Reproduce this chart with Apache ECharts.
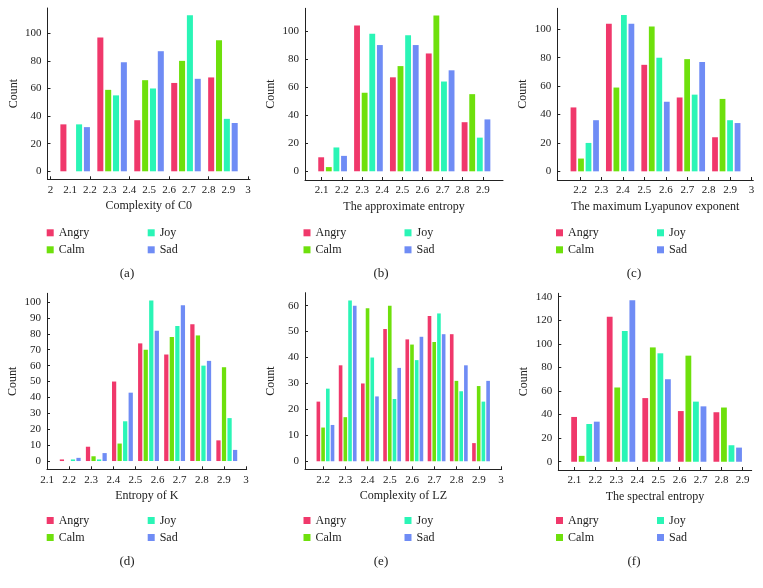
<!DOCTYPE html>
<html><head><meta charset="utf-8">
<script src="https://cdn.jsdelivr.net/npm/echarts@6/dist/echarts.min.js"></script>
<style>html,body{margin:0;padding:0;background:#fff}#c{width:763px;height:588px}</style>
</head><body><div id="c"></div>
<script>
const emotions = ['Angry', 'Calm', 'Joy', 'Sad'];
const colors = ['#f0386b', '#6ee00c', '#2af5b6', '#6f8cf5'];

// (a) Complexity of C0
const binsA = [2.125, 2.312, 2.499, 2.686, 2.873];
const angryA = [34, 97, 37, 64, 68];
const calmA = [0, 59, 66, 80, 95];
const joyA = [34, 55, 60, 113, 38];
const sadA = [32, 79, 87, 67, 35];

// (b) The approximate entropy
const binsB = [2.154, 2.332, 2.510, 2.688, 2.866];
const angryB = [10, 104, 67, 84, 35];
const calmB = [3, 56, 75, 111, 55];
const joyB = [17, 98, 97, 64, 24];
const sadB = [11, 90, 90, 72, 37];

// (c) The maximum Lyapunov exponent
const binsC = [2.222, 2.387, 2.552, 2.717, 2.882];
const angryC = [45, 104, 75, 52, 24];
const calmC = [9, 59, 102, 79, 51];
const joyC = [20, 110, 80, 54, 36];
const sadC = [36, 104, 49, 77, 34];

// (d) Entropy of K
const binsD = [2.205, 2.323, 2.441, 2.559, 2.677, 2.795, 2.913];
const angryD = [1, 9, 50, 74, 67, 86, 13];
const calmD = [0, 3, 11, 70, 78, 79, 59];
const joyD = [1, 1, 25, 101, 85, 60, 27];
const sadD = [2, 5, 43, 82, 98, 63, 7];

// (e) Complexity of LZ
const binsE = [2.21, 2.31, 2.41, 2.51, 2.61, 2.71, 2.81, 2.91];
const angryE = [23, 37, 30, 51, 47, 56, 49, 7];
const calmE = [13, 17, 59, 60, 45, 46, 31, 29];
const joyE = [28, 62, 40, 24, 39, 57, 27, 23];
const sadE = [14, 60, 25, 36, 48, 49, 37, 31];

// (f) The spectral entropy
const binsF = [2.153, 2.322, 2.491, 2.660, 2.829];
const angryF = [38, 123, 54, 43, 42];
const calmF = [5, 63, 97, 90, 46];
const joyF = [32, 111, 92, 51, 14];
const sadF = [34, 137, 70, 47, 12];

// tick labels
const xLabelsA = [2, 2.1, 2.2, 2.3, 2.4, 2.5, 2.6, 2.7, 2.8, 2.9, 3];
const xLabelsB = [2.1, 2.2, 2.3, 2.4, 2.5, 2.6, 2.7, 2.8, 2.9];
const xLabelsC = [2.2, 2.3, 2.4, 2.5, 2.6, 2.7, 2.8, 2.9, 3];
const xLabelsD = [2.1, 2.2, 2.3, 2.4, 2.5, 2.6, 2.7, 2.8, 2.9, 3];
const xLabelsE = [2.2, 2.3, 2.4, 2.5, 2.6, 2.7, 2.8, 2.9, 3];
const xLabelsF = [2.1, 2.2, 2.3, 2.4, 2.5, 2.6, 2.7, 2.8, 2.9];
const xTicksA = [2, 2.2, 2.4, 2.6, 2.8, 3];
const yLabels100 = [0, 20, 40, 60, 80, 100];
const yLabelsD = [0, 10, 20, 30, 40, 50, 60, 70, 80, 90, 100];
const yLabelsE = [0, 10, 20, 30, 40, 50, 60];
const yLabelsF = [0, 20, 40, 60, 80, 100, 120, 140];

const axisNames = ['Complexity of C0', 'The approximate entropy', 'The maximum Lyapunov exponent',
  'Entropy of K', 'Complexity of LZ', 'The spectral entropy'];
const tags = ['(a)', '(b)', '(c)', '(d)', '(e)', '(f)'];

const FONT = 'Liberation Serif';
const INK = '#222';

const panels = [
  { bins: binsA, vals: [angryA, calmA, joyA, sadA], xLabels: xLabelsA, xTicks: xTicksA, yLabels: yLabels100,
    left: 47.5, top: 8, right: 250, bottom: 179.3, xMin: 1.985, xMax: 3.01, yMin: -5.8, yMax: 118.3,
    legX: 46.7, legY: 225.8, tagX: 127, tagY: 274 },
  { bins: binsB, vals: [angryB, calmB, joyB, sadB], xLabels: xLabelsB, xTicks: xLabelsB, yLabels: yLabels100,
    left: 305, top: 8.3, right: 503, bottom: 180, xMin: 2.017, xMax: 3.0, yMin: -6.2, yMax: 116.2,
    legX: 303.5, legY: 225.8, tagX: 381, tagY: 274 },
  { bins: binsC, vals: [angryC, calmC, joyC, sadC], xLabels: xLabelsC, xTicks: xLabelsC, yLabels: yLabels100,
    left: 557.3, top: 8.3, right: 753.3, bottom: 180, xMin: 2.094, xMax: 3.008, yMin: -6.1, yMax: 114.8,
    legX: 556, legY: 225.8, tagX: 634, tagY: 274 },
  { bins: binsD, vals: [angryD, calmD, joyD, sadD], xLabels: xLabelsD, xTicks: xLabelsD, yLabels: yLabelsD,
    left: 47, top: 293.3, right: 246.7, bottom: 469.3, xMin: 2.1, xMax: 3.003, yMin: -5.2, yMax: 105.5,
    legX: 46.7, legY: 513.5, tagX: 127, tagY: 561.5 },
  { bins: binsE, vals: [angryE, calmE, joyE, sadE], xLabels: xLabelsE, xTicks: xLabelsE, yLabels: yLabelsE,
    left: 305, top: 292.7, right: 501.7, bottom: 469.3, xMin: 2.118, xMax: 3.003, yMin: -3.1, yMax: 65,
    legX: 303.5, legY: 513.5, tagX: 381, tagY: 561.5 },
  { bins: binsF, vals: [angryF, calmF, joyF, sadF], xLabels: xLabelsF, xTicks: xLabelsF, yLabels: yLabelsF,
    left: 558.3, top: 293.3, right: 751.7, bottom: 470, xMin: 2.024, xMax: 2.943, yMin: -7, yMax: 142.9,
    legX: 556, legY: 513.5, tagX: 634, tagY: 561.5 }
];

const grid = [], xAxis = [], yAxis = [], series = [], legend = [], graphic = [];
const lineStyle = { color: INK, width: 1 };

panels.forEach((p, i) => {
  grid.push({ left: p.left, top: p.top, width: p.right - p.left, height: p.bottom - p.top });
  xAxis.push({
    type: 'value', gridIndex: i, min: p.xMin, max: p.xMax,
    axisLine: { show: true, onZero: false, lineStyle },
    axisTick: { show: true, inside: true, length: 3, customValues: p.xTicks, lineStyle },
    axisLabel: { customValues: p.xLabels, fontFamily: FONT, fontSize: 11, color: INK, margin: 5 },
    splitLine: { show: false },
    name: axisNames[i], nameLocation: 'middle', nameGap: 21,
    nameTextStyle: { fontFamily: FONT, fontSize: 12, color: INK }
  });
  yAxis.push({
    type: 'value', gridIndex: i, min: p.yMin, max: p.yMax,
    axisLine: { show: true, onZero: false, lineStyle },
    axisTick: { show: true, inside: true, length: 3, customValues: p.yLabels, lineStyle },
    axisLabel: { customValues: p.yLabels, fontFamily: FONT, fontSize: 11, color: INK, margin: 6 },
    splitLine: { show: false },
    name: 'Count', nameLocation: 'middle', nameGap: 28, nameRotate: 90,
    nameTextStyle: { fontFamily: FONT, fontSize: 12, color: INK }
  });
  emotions.forEach((e, k) => {
    series.push({
      type: 'bar', name: e, xAxisIndex: i, yAxisIndex: i,
      data: p.bins.map((x, j) => [x, p.vals[k][j]]),
      itemStyle: { color: colors[k] },
      barGap: '30%', barCategoryGap: '20%'
    });
  });
  const legBase = {
    orient: 'vertical', top: p.legY, padding: 0, itemGap: 3,
    itemWidth: 7, itemHeight: 7, icon: 'rect', selectedMode: false,
    textStyle: { fontFamily: FONT, fontSize: 12, color: INK, lineHeight: 14 }
  };
  legend.push(Object.assign({}, legBase, { left: p.legX, data: ['Angry', 'Calm'] }));
  legend.push(Object.assign({}, legBase, { left: p.legX + 101, data: ['Joy', 'Sad'] }));
  graphic.push({
    type: 'text', x: p.tagX, y: p.tagY,
    style: { text: tags[i], fontFamily: FONT, fontSize: 13, fill: INK, align: 'center', verticalAlign: 'middle' }
  });
});

const chart = echarts.init(document.getElementById('c'), null, { renderer: 'canvas' });
chart.setOption({
  animation: false,
  backgroundColor: '#fff',
  grid, xAxis, yAxis, series, legend, graphic
});
</script>
</body></html>
